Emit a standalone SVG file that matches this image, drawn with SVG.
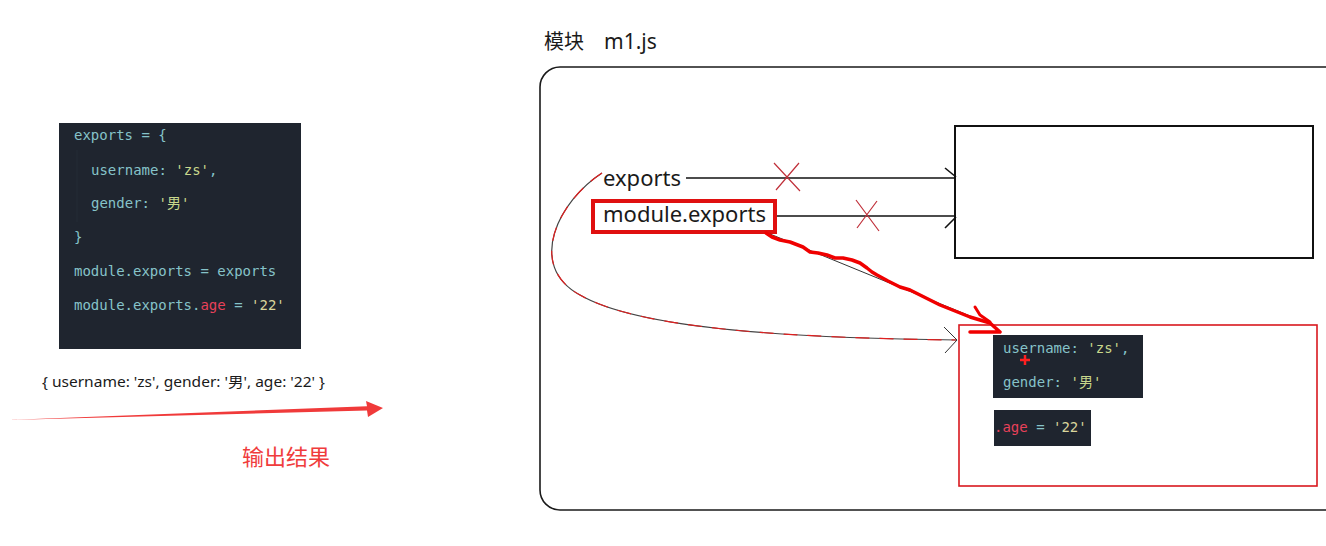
<svg xmlns="http://www.w3.org/2000/svg" width="1326" height="546" viewBox="0 0 1326 546">
<style>
.code{font-family:"DejaVu Sans Mono","Liberation Mono",monospace;font-size:14px;fill:#86c3c9}
.str{fill:#c9d88c}
.num{fill:#d9d59c}
.red{fill:#e8415a}
.lbl{font-family:"Noto Sans","Liberation Sans",sans-serif;font-size:22px;fill:#1a1a1a}
.ln{stroke:#111;stroke-width:1.6;fill:none}
.x{stroke:#c0303a;stroke-width:1.2;fill:none}
</style>
<rect width="1326" height="546" fill="#ffffff"/>

<g id="code-panel">
  <rect x="59" y="123" width="242" height="226" fill="#1f252f"/>
  <line x1="77" y1="150" x2="77" y2="222" stroke="#252c36" stroke-width="1"/>
  <text class="code" x="74" y="140">exports = {</text>
  <text class="code" x="91" y="175">username: <tspan class="str">'zs'</tspan>,</text>
  <text class="code" x="91" y="208">gender: <tspan class="str">'<tspan font-family="Noto Sans CJK SC,sans-serif">男</tspan>'</tspan></text>
  <text class="code" x="74" y="242">}</text>
  <text class="code" x="74" y="276">module.exports = exports</text>
  <text class="code" x="74" y="310">module.exports.<tspan class="red">age</tspan> = <tspan class="num">'22'</tspan></text>
</g>

<g id="output">
  <text x="42" y="387" font-family="Noto Sans,Noto Sans CJK SC,sans-serif" font-size="14" fill="#1a1a1a" textLength="283" lengthAdjust="spacingAndGlyphs">{ username: 'zs', gender: '男', age: '22' }</text>
  <path d="M8 420 L367 406.3 L366 401 L383 408 L368 417 L367 410.6 Z" fill="#f03a3a"/>
  <text x="242" y="465" font-family="Noto Sans CJK SC,sans-serif" font-size="22" fill="#f03c3c">输出结果</text>
</g>

<g id="module">
  <text x="544" y="49" font-family="Noto Sans CJK SC,sans-serif" font-size="20" fill="#1a1a1a">模块</text>
  <text x="604" y="49" font-family="Noto Sans,Liberation Sans,sans-serif" font-size="21" fill="#1a1a1a">m1.js</text>
  <rect x="540" y="67" width="900" height="443" rx="20" fill="none" stroke="#1a1a1a" stroke-width="1.6"/>
</g>

<g id="box-empty">
  <rect x="955" y="126" width="358" height="132" fill="#fff" stroke="#111" stroke-width="2"/>
</g>

<g id="box-object">
  <rect x="959" y="325" width="358" height="161" fill="#fff" stroke="#d9181f" stroke-width="1.6"/>
  <rect x="993" y="335" width="150" height="63" fill="#1f252f"/>
  <text class="code" x="1003" y="353">username: <tspan class="str">'zs'</tspan>,</text>
  <text class="code" x="1003" y="387">gender: <tspan class="str">'<tspan font-family="Noto Sans CJK SC,sans-serif">男</tspan>'</tspan></text>
  <rect x="994" y="410" width="97" height="36" fill="#1f252f"/>
  <text class="code" x="994" y="432"><tspan class="red">.age</tspan> = <tspan class="num">'22'</tspan></text>
  <path d="M1020 360 H1030 M1025 355 V365" stroke="#ff2020" stroke-width="2.5"/>
</g>

<g id="labels">
  <text class="lbl" x="603" y="186">exports</text>
  <rect x="593" y="201" width="182" height="31" fill="none" stroke="#e01010" stroke-width="4"/>
  <text class="lbl" x="603" y="222">module.exports</text>
</g>

<g id="connectors">
  <line class="ln" x1="686" y1="178" x2="956" y2="178"/>
  <line class="ln" x1="945" y1="168" x2="956" y2="177"/>
  <line class="ln" x1="777" y1="216" x2="956" y2="216"/>
  <line class="ln" x1="945" y1="228" x2="956" y2="217"/>
  <path class="x" d="M774 163 L800 191 M799 163 L776 190"/>
  <path class="x" d="M856 200 L879 231 M877 201 L857 228"/>
  <path d="M602 173 C560 200 525 265 580 295 C640 330 800 338 957 340" fill="none" stroke="#444" stroke-width="1.2"/>
  <path d="M602 173 C560 200 525 265 580 295 C640 330 800 338 957 340" fill="none" stroke="#e02020" stroke-width="1.2" stroke-dasharray="14 10"/>
  <path d="M944 327 L957 340 L945 353" fill="none" stroke="#333" stroke-width="1"/>
  <line x1="770" y1="234" x2="975" y2="318" stroke="#333" stroke-width="1"/>
  <path d="M766 233 L772 237 L780 240 L790 242 L803 247 L810 252 L818 253 L827 255 L835 258 L843 258 L852 260 L860 263 L867 268 L872 272 L877 275 L888 281 L900 287 L910 290 L920 295 L930 300 L940 305 L950 309 L960 313 L970 317 L980 320 L990 323 L1000 332 L970 332" fill="none" stroke="#f00000" stroke-width="3.5" stroke-linejoin="round" stroke-linecap="round"/>
  <path d="M975 307 L980 315 L990 322" fill="none" stroke="#f00000" stroke-width="3" stroke-linecap="round"/>
</g>
</svg>
